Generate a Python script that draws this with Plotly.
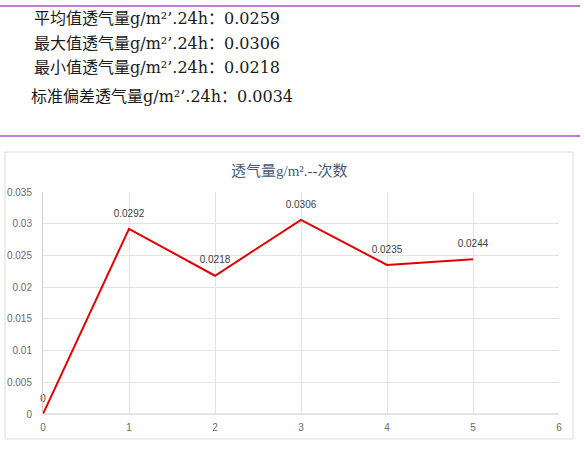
import plotly.graph_objects as go

# data
runs = [0, 1, 2, 3, 4, 5]
rates = [0, 0.0292, 0.0218, 0.0306, 0.0235, 0.0244]
rate_labels = ["0", "0.0292", "0.0218", "0.0306", "0.0235", "0.0244"]
summary_lines = [
    "平均值透气量g/m²’.24h：0.0259",
    "最大值透气量g/m²’.24h：0.0306",
    "最小值透气量g/m²’.24h：0.0218",
    "标准偏差透气量g/m²’.24h：0.0034",
]
chart_title = "透气量g/m².--次数"

W, H = 585, 453
L, R, T, B = 43, 559, 192, 414  # plot area in pixels


def px_x(x):
    return (x - L) / (R - L)


def px_y(y):
    return (B - y) / (B - T)


fig = go.Figure()
fig.add_trace(go.Scatter(
    x=runs, y=rates, mode="lines+markers+text",
    text=rate_labels, textposition="top center",
    textfont=dict(size=10, color="#404040", family="Liberation Sans"),
    line=dict(color="#e00000", width=2),
    marker=dict(size=14, color="rgba(0,0,0,0)"),
    cliponaxis=False, showlegend=False, hoverinfo="skip",
))

fig.update_layout(
    width=W, height=H,
    margin=dict(l=L, r=W - R, t=T, b=H - B, pad=0, autoexpand=False),
    paper_bgcolor="white", plot_bgcolor="white",
    font=dict(family="Liberation Sans", color="#595959", size=10),
)
fig.update_xaxes(range=[0, 6], dtick=1, showgrid=True, gridcolor="#e3e3e3",
                 zeroline=False, showline=False, ticks="", ticklabelstandoff=6,
                 tickfont=dict(size=10, color="#6a6a6a"))
fig.update_yaxes(range=[0, 0.035], dtick=0.005, showgrid=True, gridcolor="#e3e3e3",
                 zeroline=False, showline=True, linecolor="#d0d0d0", ticks="",
                 ticklabelstandoff=8, tickfont=dict(size=10, color="#6a6a6a"))

shapes = [
    # bottom axis line
    dict(type="line", xref="paper", yref="paper", x0=0, x1=1, y0=0, y1=0,
         line=dict(color="#c8c8c8", width=1)),
    # chart frame
    dict(type="rect", xref="paper", yref="paper", x0=px_x(5), x1=px_x(573),
         y0=px_y(439), y1=px_y(152), line=dict(color="#dcdcdc", width=1)),
    # purple separators
    dict(type="line", xref="paper", yref="paper", x0=px_x(0), x1=px_x(580),
         y0=px_y(6), y1=px_y(6), line=dict(color="#a452c6", width=1.5)),
    dict(type="line", xref="paper", yref="paper", x0=px_x(0), x1=px_x(580),
         y0=px_y(136), y1=px_y(136), line=dict(color="#a452c6", width=1.5)),
]
fig.update_layout(shapes=shapes)

text_y = [18, 43, 67, 96]
text_x = [32, 32, 32, 29]
for s, tx, ty in zip(summary_lines, text_x, text_y):
    fig.add_annotation(text=s, xref="paper", yref="paper", x=px_x(tx), y=px_y(ty),
                       xanchor="left", yanchor="middle", showarrow=False,
                       font=dict(family="DejaVu Serif, Noto Sans CJK SC", size=16, color="#1a1a1a"))

fig.add_annotation(text=chart_title, xref="paper", yref="paper", x=px_x(289), y=px_y(171),
                   xanchor="center", yanchor="middle", showarrow=False,
                   font=dict(family="Liberation Serif, Noto Sans CJK SC", size=15, color="#4a5a78"))

# page body has a default 8px margin; drop it so the figure sits at the window corner
fig.write_html("out.html", config={"displayModeBar": False},
               post_script="document.body.style.margin='0';")
